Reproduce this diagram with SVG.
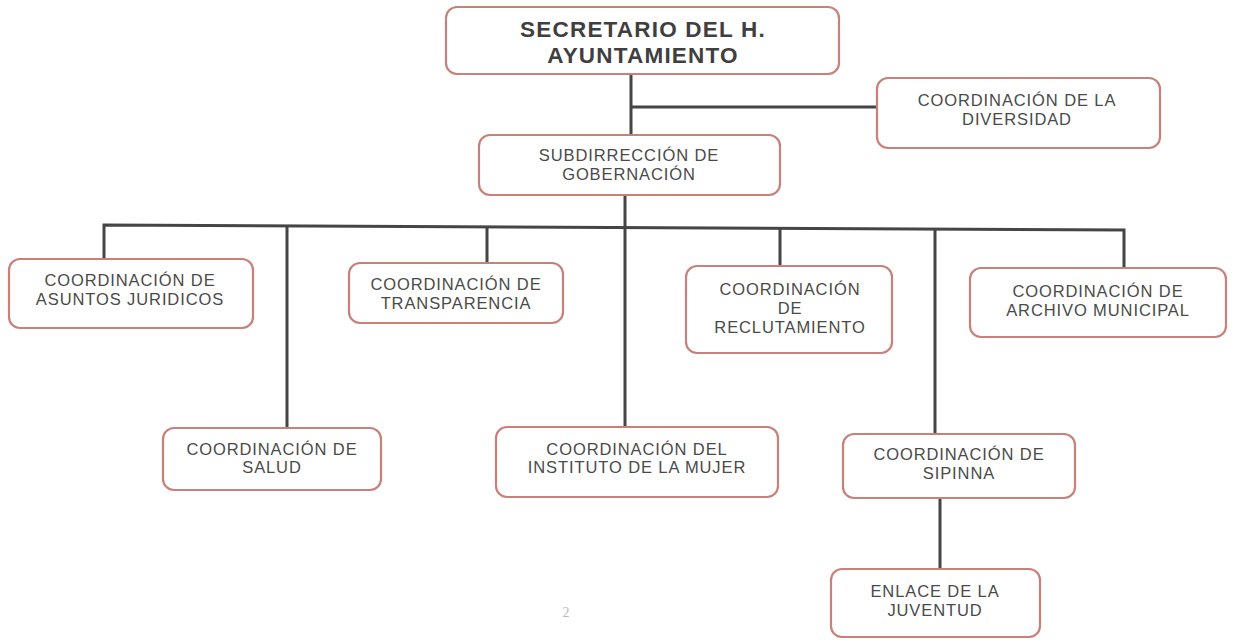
<svg xmlns="http://www.w3.org/2000/svg" width="1238" height="640" viewBox="0 0 1238 640">
<style>
.box{fill:#fff;stroke:#c8807b;stroke-width:2.2}
.t{font-family:"Liberation Sans",Arial,sans-serif;font-size:16.5px;letter-spacing:0.9px;fill:#4a4a4a;text-anchor:middle}
.tb{font-family:"Liberation Sans",Arial,sans-serif;font-size:22.5px;letter-spacing:1.2px;font-weight:bold;fill:#3f3f3f;text-anchor:middle}
.c{stroke:#454545;stroke-width:3;fill:none}
</style>
<rect width="1238" height="640" fill="#fff"/>
<g id="connectors">
<path class="c" d="M631 74V135M631 107H877"/>
<path class="c" d="M625 195V428"/>
<path class="c" d="M104 259V225L1124 230V268"/>
<path class="c" d="M287 226V428M487 227V263M780 228V266M935 229V434"/>
<path class="c" d="M940 498V569"/>
</g>
<g id="secretario"><rect class="box" x="446" y="7" width="393" height="67" rx="11"/><text class="tb" x="643" y="37">SECRETARIO DEL H.</text><text class="tb" x="643" y="63">AYUNTAMIENTO</text></g>
<g id="diversidad"><rect class="box" x="877" y="78" width="283" height="70" rx="11"/><text class="t" x="1017" y="106">COORDINACIÓN DE LA</text><text class="t" x="1017" y="125">DIVERSIDAD</text></g>
<g id="subdireccion"><rect class="box" x="479" y="135" width="301" height="60" rx="11"/><text class="t" x="629" y="161">SUBDIRRECCIÓN DE</text><text class="t" x="629" y="180">GOBERNACIÓN</text></g>
<g id="juridicos"><rect class="box" x="9" y="259" width="244" height="69" rx="11"/><text class="t" x="130" y="286">COORDINACIÓN DE</text><text class="t" x="130" y="305">ASUNTOS JURIDICOS</text></g>
<g id="transparencia"><rect class="box" x="349" y="263" width="214" height="60" rx="11"/><text class="t" x="456" y="290">COORDINACIÓN DE</text><text class="t" x="456" y="309">TRANSPARENCIA</text></g>
<g id="reclutamiento"><rect class="box" x="686" y="266" width="206" height="87" rx="11"/><text class="t" x="790" y="295">COORDINACIÓN</text><text class="t" x="790" y="314">DE</text><text class="t" x="790" y="333">RECLUTAMIENTO</text></g>
<g id="archivo"><rect class="box" x="970" y="268" width="256" height="69" rx="11"/><text class="t" x="1098" y="297">COORDINACIÓN DE</text><text class="t" x="1098" y="316">ARCHIVO MUNICIPAL</text></g>
<g id="salud"><rect class="box" x="163" y="428" width="218" height="62" rx="11"/><text class="t" x="272" y="455">COORDINACIÓN DE</text><text class="t" x="272" y="473">SALUD</text></g>
<g id="mujer"><rect class="box" x="496" y="427" width="282" height="70" rx="11"/><text class="t" x="637" y="455">COORDINACIÓN DEL</text><text class="t" x="637" y="473">INSTITUTO DE LA MUJER</text></g>
<g id="sipinna"><rect class="box" x="843" y="434" width="232" height="64" rx="11"/><text class="t" x="959" y="460">COORDINACIÓN DE</text><text class="t" x="959" y="479">SIPINNA</text></g>
<g id="enlace"><rect class="box" x="831" y="569" width="209" height="68" rx="11"/><text class="t" x="935" y="597">ENLACE DE LA</text><text class="t" x="935" y="616">JUVENTUD</text></g>
<text x="566" y="617" style="font-family:'Liberation Serif',serif;font-size:14px;fill:#bbb;text-anchor:middle">2</text>
</svg>
